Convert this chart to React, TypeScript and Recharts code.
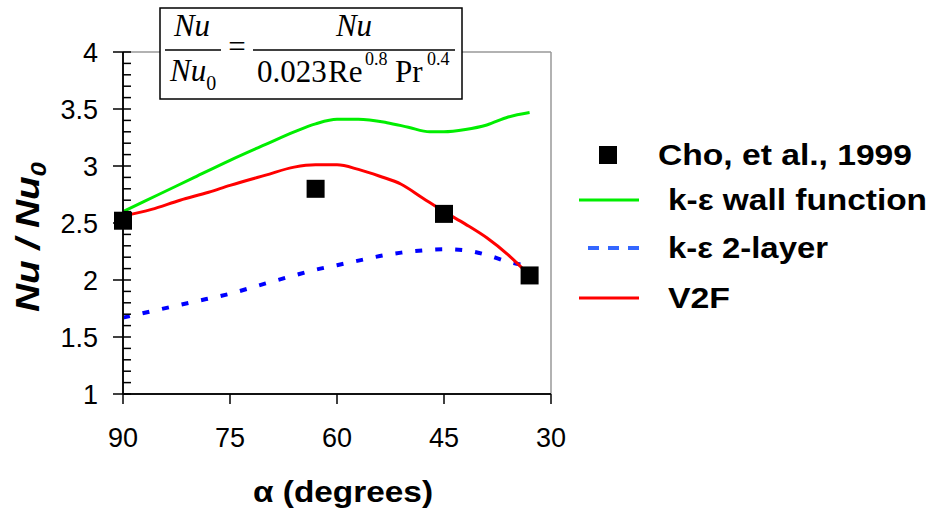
import { ComposedChart, Line, ReferenceLine, Scatter, XAxis, YAxis } from 'recharts'

const xTicks = [90, 75, 60, 45, 30]
const yTicks = [
  1, 1.1, 1.2, 1.3, 1.4, 1.5, 1.6, 1.7, 1.8, 1.9, 2, 2.1, 2.2, 2.3, 2.4, 2.5, 2.6, 2.7, 2.8, 2.9, 3, 3.1,
  3.2, 3.3, 3.4, 3.5, 3.6, 3.7, 3.8, 3.9, 4,
]
const yMajor = [1, 1.5, 2, 2.5, 3, 3.5, 4]

// Cho, et al., 1999 (experiment)
const choAlpha = [90, 63, 45, 33]
const choNu = [2.52, 2.8, 2.58, 2.04]

// k-eps wall function
const wallAlpha = [90, 85, 80, 75, 70, 66, 63, 60, 57, 53, 50, 47, 45, 42, 39, 36, 33]
const wallNu = [2.6, 2.75, 2.9, 3.05, 3.19, 3.3, 3.37, 3.41, 3.41, 3.38, 3.34, 3.3, 3.3, 3.32, 3.36, 3.43, 3.47]

// k-eps 2-layer
const twoLayerAlpha = [90, 85, 80, 75, 70, 66, 63, 60, 57, 54, 51, 48, 45, 42, 39, 36, 33]
const twoLayerNu = [1.67, 1.74, 1.81, 1.88, 1.97, 2.04, 2.09, 2.13, 2.17, 2.21, 2.24, 2.26, 2.27, 2.26, 2.22, 2.16, 2.12]

// V2F
const v2fAlpha = [90, 86, 82, 78, 75, 70, 66, 63, 60, 57, 54, 51, 48, 45, 42, 39, 36, 33]
const v2fNu = [2.56, 2.62, 2.7, 2.77, 2.83, 2.92, 2.99, 3.01, 3.01, 2.97, 2.91, 2.84, 2.72, 2.6, 2.49, 2.37, 2.22, 2.04]

const toRows = (alpha: number[], nu: number[]) => alpha.map((a, i) => ({ a, v: nu[i] }))

const choRows = toRows(choAlpha, choNu)
const wallRows = toRows(wallAlpha, wallNu)
const twoLayerRows = toRows(twoLayerAlpha, twoLayerNu)
const v2fRows = toRows(v2fAlpha, v2fNu)

const GREEN = '#00ee00'
const RED = '#ff0000'
const BLUE = '#0000ff'
const FRAME = '#999999'

function isMajor(v: number) {
  return yMajor.some((m) => Math.abs(m - v) < 1e-6)
}

// tickSize 10 + tickMargin 15 => axis line sits 25px right of the tick's x
function YTick({ x, y, payload }: { x: number; y: number; payload: { value: number } }) {
  const axisX = x + 25
  const major = isMajor(payload.value)
  return (
    <g>
      <line x1={major ? axisX - 10 : axisX} x2={axisX + 8} y1={y} y2={y} stroke="#000" strokeWidth={1.5} />
      {major ? (
        <text x={x} y={y} dy="0.355em" textAnchor="end" fontSize={27} fill="#000">
          {String(payload.value)}
        </text>
      ) : null}
    </g>
  )
}

function SquareDot({ cx, cy }: { cx?: number; cy?: number }) {
  if (cx == null || cy == null) return null
  return <rect x={cx - 9} y={cy - 9} width={18} height={18} fill="#000" />
}

function YTitle({ viewBox }: { viewBox?: { x: number; y: number; width: number; height: number } }) {
  if (!viewBox) return null
  const cx = viewBox.x - 36
  const cy = viewBox.y + viewBox.height / 2 + 14
  return (
    <text
      transform={`translate(${cx},${cy}) rotate(-90)`}
      textAnchor="middle"
      dy="0.35em"
      fontSize={33}
      fontWeight="bold"
      fontStyle="italic"
      fill="#000"
      textLength={150}
      lengthAdjust="spacingAndGlyphs"
    >
      Nu / Nu<tspan fontSize={22} dy={7}>0</tspan>
    </text>
  )
}

function XTitle({ viewBox }: { viewBox?: { x: number; y: number; width: number; height: number } }) {
  if (!viewBox) return null
  return (
    <text
      x={viewBox.x + viewBox.width / 2 + 6}
      y={viewBox.y + 108}
      textAnchor="middle"
      fontSize={30}
      fontWeight="bold"
      fill="#000"
      textLength={180}
      lengthAdjust="spacingAndGlyphs"
    >
      α (degrees)
    </text>
  )
}

const legendItems = [
  { label: 'Cho, et al., 1999', kind: 'square', color: '#000', y: 155, len: 254, tx: 658 },
  { label: 'k-ε wall function', kind: 'line', color: GREEN, y: 200, len: 259, tx: 668 },
  { label: 'k-ε 2-layer', kind: 'dash', color: '#3366ff', y: 248, len: 160, tx: 668 },
  { label: 'V2F', kind: 'line', color: RED, y: 298, len: 62, tx: 668 },
]

function Overlay() {
  const serif = '"Liberation Serif", "Times New Roman", serif'
  return (
    <svg
      width={932}
      height={511}
      style={{ position: 'absolute', left: 0, top: 0, pointerEvents: 'none' }}
    >
      {/* equation box */}
      <rect x={160} y={8} width={302} height={91} fill="#fff" stroke="#000" strokeWidth={1.5} />
      <g fontFamily={serif} fill="#000">
        <text x={192} y={36} fontSize={31} fontStyle="italic" textAnchor="middle">Nu</text>
        <line x1={165} x2={221} y1={50} y2={50} stroke="#000" strokeWidth={1.5} />
        <text x={170} y={81} fontSize={31} fontStyle="italic">
          Nu<tspan fontStyle="normal" fontSize={20} dy={9}>0</tspan>
        </text>
        <text x={237} y={57} fontSize={31} textAnchor="middle">=</text>
        <line x1={253} x2={455} y1={50} y2={50} stroke="#000" strokeWidth={1.5} />
        <text x={354} y={36} fontSize={31} fontStyle="italic" textAnchor="middle">Nu</text>
        <text x={257} y={82} fontSize={31}>0.023</text>
        <text x={328} y={82} fontSize={31}>Re</text>
        <text x={365} y={65} fontSize={18}>0.8</text>
        <text x={395} y={82} fontSize={31}>Pr</text>
        <text x={427} y={65} fontSize={18}>0.4</text>
      </g>

      {/* legend */}
      <g fontWeight="bold" fontSize={29} fill="#000">
        {legendItems.map((it) => (
          <g key={it.label}>
            {it.kind === 'square' ? (
              <rect x={599} y={it.y - 9} width={18} height={18} fill={it.color} />
            ) : it.kind === 'dash' ? (
              <line x1={588} x2={639} y1={it.y} y2={it.y} stroke={it.color} strokeWidth={4} strokeDasharray="11 9" />
            ) : (
              <line x1={579} x2={639} y1={it.y} y2={it.y} stroke={it.color} strokeWidth={3} />
            )}
            <text x={it.tx} y={it.y} dy="0.36em" textLength={it.len} lengthAdjust="spacingAndGlyphs">
              {it.label}
            </text>
          </g>
        ))}
      </g>
    </svg>
  )
}

export default function App() {
  return (
    <div
      style={{
        position: 'absolute',
        left: 0,
        top: 0,
        width: 932,
        height: 511,
        background: '#fff',
        fontFamily: '"Liberation Sans", Arial, sans-serif',
      }}
    >
      <ComposedChart width={932} height={511} margin={{ top: 52, right: 381, bottom: 57, left: 63 }}>
        <XAxis
          dataKey="a"
          type="number"
          domain={[30, 90]}
          reversed
          ticks={xTicks}
          interval={0}
          height={60}
          tickSize={10}
          tickMargin={24}
          tick={{ fontSize: 27, fill: '#000' }}
          tickLine={{ stroke: '#000', strokeWidth: 1.5 }}
          axisLine={{ stroke: '#111', strokeWidth: 2 }}
          label={<XTitle />}
        />
        <YAxis
          dataKey="v"
          type="number"
          domain={[1, 4]}
          ticks={yTicks}
          interval={0}
          width={60}
          tickSize={10}
          tickMargin={15}
          tickLine={false}
          tick={(p: any) => <YTick x={p.x} y={p.y} payload={p.payload} />}
          axisLine={{ stroke: '#111', strokeWidth: 2 }}
          label={<YTitle />}
        />
        <ReferenceLine y={4} stroke={FRAME} strokeWidth={1.5} />
        <ReferenceLine x={30} stroke={FRAME} strokeWidth={1.5} />
        <Line
          data={wallRows}
          dataKey="v"
          type="monotone"
          stroke={GREEN}
          strokeWidth={3}
          dot={false}
          activeDot={false}
          isAnimationActive={false}
        />
        <Line
          data={twoLayerRows}
          dataKey="v"
          type="monotone"
          stroke={BLUE}
          strokeWidth={4}
          strokeDasharray="7 13"
          dot={false}
          activeDot={false}
          isAnimationActive={false}
        />
        <Line
          data={v2fRows}
          dataKey="v"
          type="monotone"
          stroke={RED}
          strokeWidth={3}
          dot={false}
          activeDot={false}
          isAnimationActive={false}
        />
        <Scatter data={choRows} dataKey="v" shape={<SquareDot />} isAnimationActive={false} />
      </ComposedChart>
      <Overlay />
    </div>
  )
}
